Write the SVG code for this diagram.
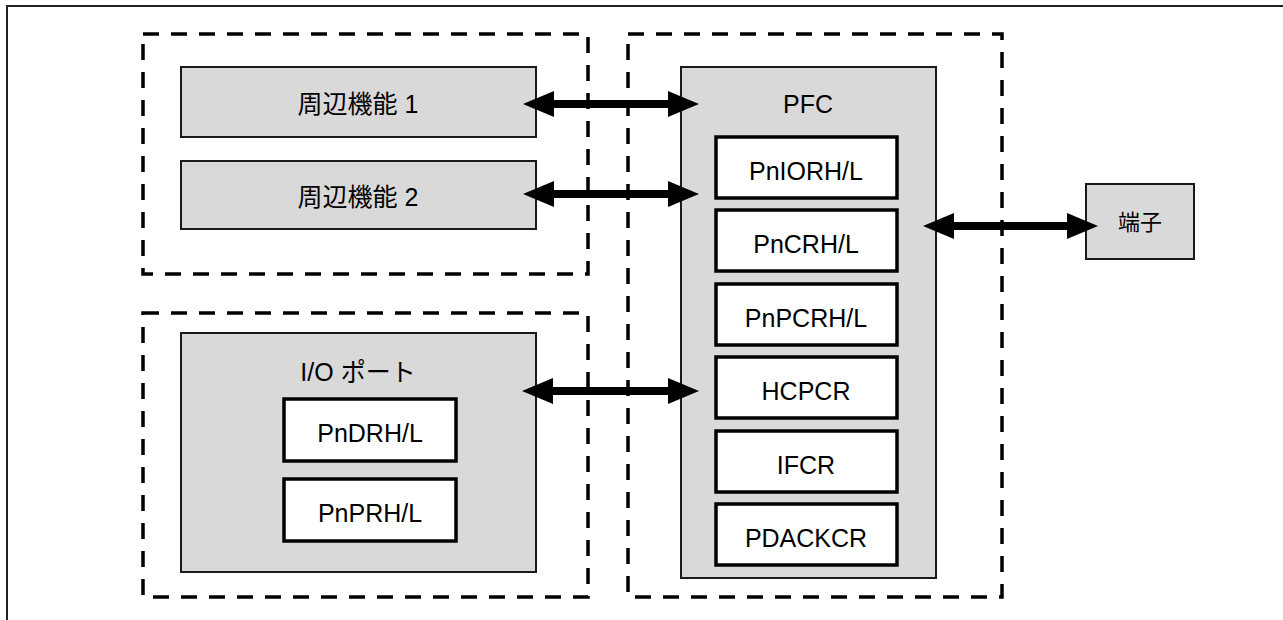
<svg xmlns="http://www.w3.org/2000/svg" width="1283" height="620" viewBox="0 0 1283 620">
<style>
.frame{fill:none;stroke:#222;stroke-width:2}
.dash{fill:none;stroke:#000;stroke-width:3.5;stroke-dasharray:16 12}
.gray{fill:#d9d9d9;stroke:#1a1a1a;stroke-width:2}
.reg{fill:#fff;stroke:#000;stroke-width:3.5}
.lbl{font-family:"Liberation Sans","Noto Sans CJK JP",sans-serif;font-size:25px;fill:#000;text-anchor:middle;dominant-baseline:central}
.arr{stroke:#000;stroke-width:8;fill:none;marker-start:url(#ah);marker-end:url(#ah)}
</style>
<defs>
<marker id="ah" viewBox="0 -13 31 26" markerUnits="userSpaceOnUse" markerWidth="31" markerHeight="26" refX="0" refY="0" orient="auto-start-reverse">
<path d="M0,-13 L31,0 L0,13 z" fill="#000"/>
</marker>
</defs>
<rect width="1283" height="620" fill="#fff"/>
<path class="frame" d="M7,620 V6 H1283"/>
<g id="group-peripheral">
<rect class="dash" x="143" y="34" width="445" height="240"/>
</g>
<g id="group-pfc">
<rect class="dash" x="628" y="34" width="374" height="563"/>
</g>
<g id="group-io">
<rect class="dash" x="143" y="313" width="445" height="284"/>
</g>
<g id="peripheral1">
<rect class="gray" x="181" y="67" width="355" height="70"/>
<text class="lbl" x="358" y="104">周辺機能 1</text>
</g>
<g id="peripheral2">
<rect class="gray" x="181" y="161" width="355" height="68"/>
<text class="lbl" x="358" y="197">周辺機能 2</text>
</g>
<g id="ioport">
<rect class="gray" x="181" y="333" width="355" height="239"/>
<text class="lbl" x="358" y="372">I/O ポート</text>
<g id="pndr">
<rect class="reg" x="284" y="399" width="172" height="62"/>
<text class="lbl" x="370" y="433">PnDRH/L</text>
</g>
<g id="pnpr">
<rect class="reg" x="284" y="479" width="172" height="62"/>
<text class="lbl" x="370" y="513">PnPRH/L</text>
</g>
</g>
<g id="pfc">
<rect class="gray" x="681" y="67" width="255" height="511"/>
<text class="lbl" x="808" y="104">PFC</text>
<g id="pnior">
<rect class="reg" x="716" y="137" width="181" height="61"/>
<text class="lbl" x="806" y="171">PnIORH/L</text>
</g>
<g id="pncr">
<rect class="reg" x="716" y="210" width="181" height="61"/>
<text class="lbl" x="806" y="244">PnCRH/L</text>
</g>
<g id="pnpcr">
<rect class="reg" x="716" y="284" width="181" height="61"/>
<text class="lbl" x="806" y="318">PnPCRH/L</text>
</g>
<g id="hcpcr">
<rect class="reg" x="716" y="357" width="181" height="61"/>
<text class="lbl" x="806" y="391">HCPCR</text>
</g>
<g id="ifcr">
<rect class="reg" x="716" y="431" width="181" height="61"/>
<text class="lbl" x="806" y="465">IFCR</text>
</g>
<g id="pdackcr">
<rect class="reg" x="716" y="504" width="181" height="61"/>
<text class="lbl" x="806" y="538">PDACKCR</text>
</g>
</g>
<g id="terminal">
<rect class="gray" x="1086" y="184" width="108" height="75"/>
<text class="lbl" x="1140" y="222" style="font-size:22px">端子</text>
</g>
<g id="connectors">
<line class="arr" x1="554" y1="104" x2="668" y2="104"/>
<line class="arr" x1="554" y1="194" x2="668" y2="194"/>
<line class="arr" x1="954" y1="226" x2="1067" y2="226"/>
<line class="arr" x1="553" y1="391" x2="668" y2="391"/>
</g>
</svg>
